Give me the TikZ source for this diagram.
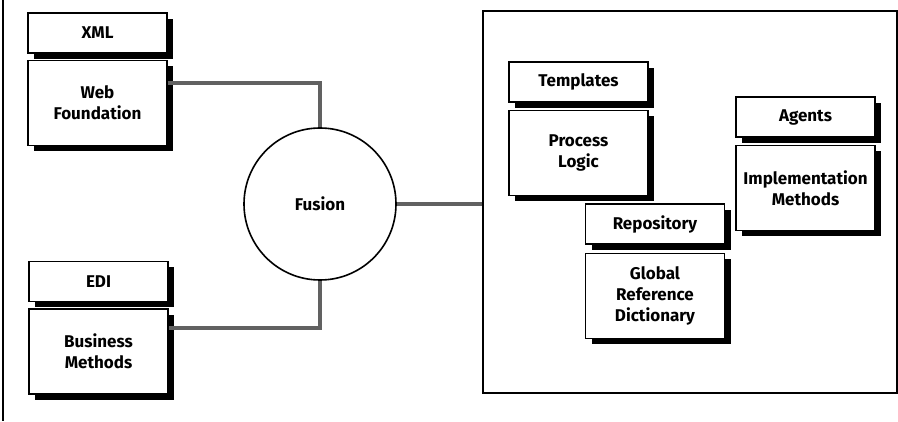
\documentclass[tikz,border=0pt]{standalone}
\usepackage{fontspec}
\setmainfont{Fira Sans}
\usetikzlibrary{calc,shadows}

\tikzset{
	label/.style={draw, line width=1.4pt, fill=white, minimum width=139pt, minimum height=40pt, inner sep=0pt, align=center, font=\fontsize{17}{21}\selectfont\bfseries, drop shadow={fill=black, opacity=1, shadow xshift=6pt, shadow yshift=-6pt}},
	body/.style={label, minimum height=85pt},
	link/.style={draw=black!62, line width=4pt},
}

\begin{document}
\begin{tikzpicture}[x=1pt, y=1pt]
	\useasboundingbox (0,0) rectangle (898,421);
	\coordinate (railtop) at (3,421);
	\coordinate (railbot) at (3,0);
	\draw[line width=1.3pt] (railtop) -- (railbot);
	\node[draw, line width=1.2pt, minimum width=414pt, minimum height=382pt] (frame) at (690,219) {};
	\node[draw, circle, line width=1.6pt, minimum size=152pt, font=\fontsize{17}{21}\selectfont\bfseries] (fusion) at (320,217) {Fusion};
	\node[label] (headxml) at (97.5,388) {XML};
	\node[body, anchor=north] (bodyxml) at ($(headxml.south)+(0,-6)$) {Web\\Foundation};
	\node[label] (headedi) at (98.5,139.5) {EDI};
	\node[body, anchor=north] (bodyedi) at ($(headedi.south)+(0,-6)$) {Business\\Methods};
	\node[label] (headtemplates) at (578.5,339) {Templates};
	\node[body, anchor=north] (bodytemplates) at ($(headtemplates.south)+(0,-7)$) {Process\\Logic};
	\node[label] (headagents) at (805.5,304) {Agents};
	\node[body, anchor=north] (bodyagents) at ($(headagents.south)+(0,-7)$) {Implementation\\Methods};
	\node[label] (headrepository) at (655,197) {Repository};
	\node[body, anchor=north] (bodyrepository) at ($(headrepository.south)+(0,-8)$) {Global\\Reference\\Dictionary};
	\draw[link] ($(bodyxml.north east)+(0,-23)$) -| (fusion.north);
	\draw[link] (fusion.south) |- ($(bodyedi.north east)+(0,-20)$);
	\draw[link] (fusion.east) -- (fusion.east -| frame.west);
\end{tikzpicture}
\end{document}
